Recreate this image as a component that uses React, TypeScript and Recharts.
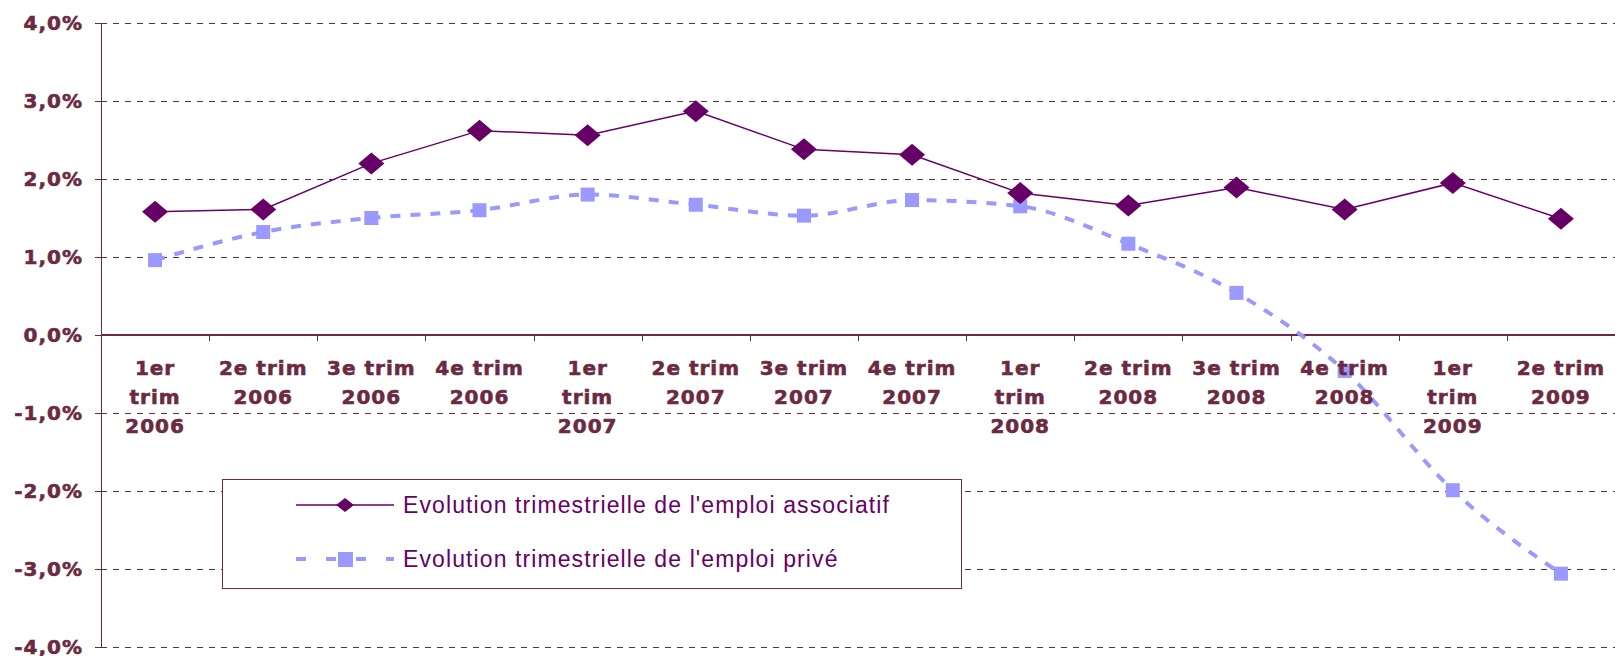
import {
  LineChart,
  Line,
  XAxis,
  YAxis,
  CartesianGrid,
  ReferenceLine,
  Legend,
} from "recharts";

const quarters = [
  "1er trim 2006",
  "2e trim 2006",
  "3e trim 2006",
  "4e trim 2006",
  "1er trim 2007",
  "2e trim 2007",
  "3e trim 2007",
  "4e trim 2007",
  "1er trim 2008",
  "2e trim 2008",
  "3e trim 2008",
  "4e trim 2008",
  "1er trim 2009",
  "2e trim 2009",
];
const emploiAssociatif = [1.58, 1.61, 2.2, 2.62, 2.56, 2.87, 2.38, 2.31, 1.82, 1.66, 1.89, 1.61, 1.95, 1.49];
const emploiPrive = [0.96, 1.32, 1.5, 1.6, 1.8, 1.67, 1.53, 1.73, 1.65, 1.17, 0.54, -0.46, -1.99, -3.06];
const yTicks = [-4, -3, -2, -1, 0, 1, 2, 3, 4];
const seriesNames = [
  "Evolution trimestrielle de l'emploi associatif",
  "Evolution trimestrielle de l'emploi privé",
];

const W = 1615;
const H = 656;
const MARGIN = { top: 23, right: 0, bottom: 8, left: 0 };
const Y_AXIS_W = 101;
const X_AXIS_H = 1;
const Y_MIN = -4;
const Y_MAX = 4;

const AXIS = "#6B2A42";
const PURPLE = "#660066";
const LILAC = "#9999FF";

const plotH = H - MARGIN.top - MARGIN.bottom - X_AXIS_H;
const plotW = W - MARGIN.left - MARGIN.right - Y_AXIS_W;
const zeroY = MARGIN.top + (plotH * Y_MAX) / (Y_MAX - Y_MIN);
const band = plotW / quarters.length;

const data = quarters.map((q, i) => ({
  q,
  associatif: emploiAssociatif[i],
  prive: emploiPrive[i],
}));

// coupe les libellés comme Excel (mots, ~7 caractères par ligne)
function wrap(label: string, max = 7) {
  const out: string[] = [];
  let cur = "";
  for (const w of label.split(" ")) {
    const next = cur ? cur + " " + w : w;
    if (next.length > max && cur) {
      out.push(cur);
      cur = w;
    } else cur = next;
  }
  if (cur) out.push(cur);
  return out;
}

const tickFont = {
  fontFamily: "'DejaVu Sans', Verdana, sans-serif",
  fontWeight: 700,
  fontSize: 20,
  letterSpacing: 1,
  stroke: AXIS,
  strokeWidth: 0.6,
};

function QuarterTick(props: any) {
  const { x, payload, index } = props;
  const lines = wrap(String(payload.value));
  return (
    <g>
      {index > 0 && (
        <line
          x1={Math.round(x - band / 2) + 0.5}
          x2={Math.round(x - band / 2) + 0.5}
          y1={zeroY}
          y2={zeroY + 6}
          stroke={AXIS}
        />
      )}
      <text textAnchor="middle" fill={AXIS} style={tickFont}>
        {lines.map((l, i) => (
          <tspan key={i} x={x} y={zeroY + 40 + i * 29}>
            {l}
          </tspan>
        ))}
      </text>
    </g>
  );
}

function Diamond(props: any) {
  const { cx, cy } = props;
  if (cx == null || cy == null) return null;
  return (
    <polygon
      points={`${cx},${cy - 11} ${cx + 13},${cy} ${cx},${cy + 11} ${cx - 13},${cy}`}
      fill={PURPLE}
    />
  );
}

function Square(props: any) {
  const { cx, cy } = props;
  if (cx == null || cy == null) return null;
  return <rect x={cx - 7} y={cy - 7} width={14} height={14} fill={LILAC} />;
}

function LegendBox() {
  const textStyle = {
    fontFamily: "'Liberation Sans', Arial, sans-serif",
    fontSize: 23,
    letterSpacing: 1.1,
  };
  return (
    <div
      style={{
        width: 740,
        height: 110,
        boxSizing: "border-box",
        border: `1px solid ${AXIS}`,
        background: "#fff",
      }}
    >
      <svg width={738} height={108} style={{ display: "block" }}>
        <line x1={73} x2={171} y1={25} y2={25} stroke={PURPLE} strokeWidth={1.5} />
        <polygon points="122,18 131,25 122,32 113,25" fill={PURPLE} />
        <text x={180} y={33} fill={PURPLE} style={textStyle}>
          {seriesNames[0]}
        </text>
        <line
          x1={73}
          x2={171}
          y1={79}
          y2={79}
          stroke={LILAC}
          strokeWidth={4}
          strokeDasharray="10 20"
        />
        <rect x={115} y={72} width={15} height={15} fill={LILAC} />
        <text x={180} y={87} fill={PURPLE} style={textStyle}>
          {seriesNames[1]}
        </text>
      </svg>
    </div>
  );
}

export default function App() {
  return (
    <div style={{ position: "absolute", left: 0, top: 0, background: "#fff" }}>
      <LineChart width={W} height={H} data={data} margin={MARGIN}>
        <CartesianGrid
          vertical={false}
          stroke={AXIS}
          strokeDasharray="6 6"
          shapeRendering="crispEdges"
        />
        <XAxis
          dataKey="q"
          height={X_AXIS_H}
          interval={0}
          padding={{ left: band / 2, right: band / 2 }}
          axisLine={false}
          tickLine={false}
          tick={<QuarterTick />}
        />
        <YAxis
          width={Y_AXIS_W}
          domain={[Y_MIN, Y_MAX]}
          ticks={yTicks}
          interval={0}
          stroke={AXIS}
          shapeRendering="crispEdges"
          tickSize={6}
          tickMargin={12}
          tick={{ fill: AXIS, ...tickFont }}
          tickFormatter={(v: number) => `${v.toFixed(1).replace(".", ",")}%`}
        />
        <ReferenceLine y={0} stroke={AXIS} strokeWidth={1.2} shapeRendering="crispEdges" />
        <Legend
          layout="horizontal"
          verticalAlign="middle"
          align="center"
          wrapperStyle={{ left: 222, top: 479, width: 740, height: 110 }}
          content={<LegendBox />}
        />
        <Line
          dataKey="prive"
          name={seriesNames[1]}
          type="monotone"
          stroke={LILAC}
          strokeWidth={4}
          strokeDasharray="10 10"
          dot={<Square />}
          activeDot={false}
          isAnimationActive={false}
        />
        <Line
          dataKey="associatif"
          name={seriesNames[0]}
          type="linear"
          stroke={PURPLE}
          strokeWidth={1.5}
          dot={<Diamond />}
          activeDot={false}
          isAnimationActive={false}
        />
      </LineChart>
    </div>
  );
}
